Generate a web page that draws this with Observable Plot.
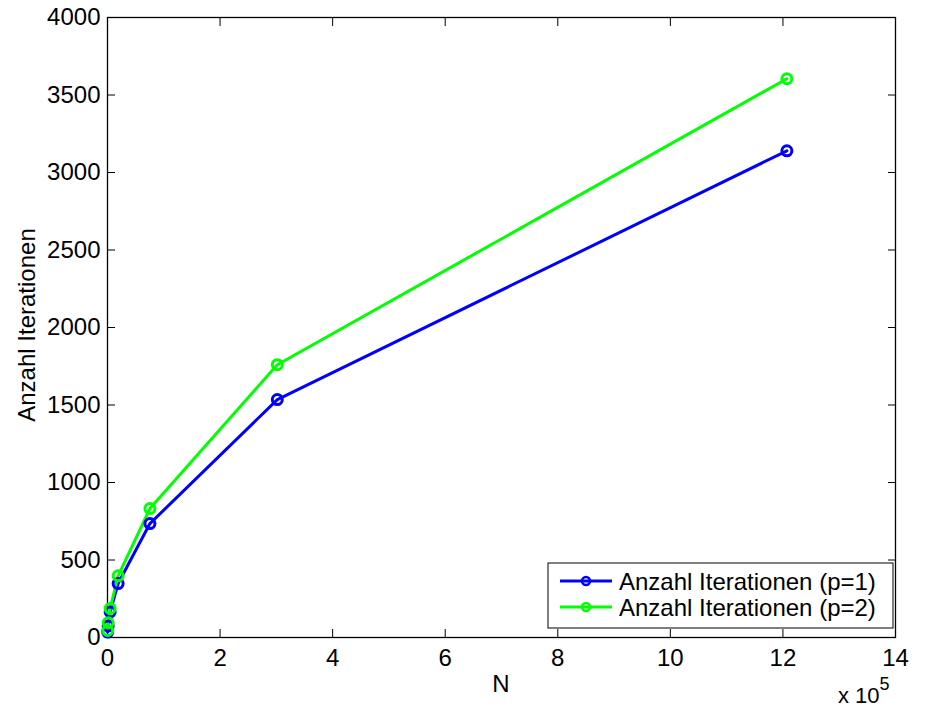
<!DOCTYPE html>
<html><head><meta charset="utf-8">
<script src="https://cdn.jsdelivr.net/npm/d3@7"></script>
<script src="https://cdn.jsdelivr.net/npm/@observablehq/plot@0.6"></script>
<style>body{margin:0;background:#fff}</style>
</head><body><div id="chart"></div>
<script>
const N = [300, 1180, 4700, 18900, 75400, 301700, 1207000];
const iterP1 = [35, 75, 165, 348, 735, 1535, 3140];
const iterP2 = [45, 95, 187, 398, 832, 1760, 3605];
const seriesNames = ["Anzahl Iterationen (p=1)", "Anzahl Iterationen (p=2)"];
const seriesColors = ["#0000ff", "#00ff00"];
const xTicks = [0, 2, 4, 6, 8, 10, 12, 14];
const yTicks = [0, 500, 1000, 1500, 2000, 2500, 3000, 3500, 4000];

const data = [];
N.forEach((n, i) => {
  data.push({x: n / 1e5, y: iterP1[i], s: seriesNames[0]});
});
N.forEach((n, i) => {
  data.push({x: n / 1e5, y: iterP2[i], s: seriesNames[1]});
});

const font = "'Liberation Sans', Arial, Helvetica, sans-serif";
const plot = Plot.plot({
  width: 928, height: 710,
  marginLeft: 107, marginRight: 33, marginTop: 17, marginBottom: 73,
  style: {fontFamily: font, fontSize: "24px", color: "#000", background: "#fff"},
  x: {domain: [0, 14], ticks: xTicks},
  y: {domain: [0, 4000], ticks: yTicks},
  color: {domain: seriesNames, range: seriesColors},
  marks: [
    Plot.axisX({ticks: xTicks, tickSize: 0, tickPadding: 11, label: null, fontSize: 24, tickFormat: d3.format("d")}),
    Plot.axisY({ticks: yTicks, tickSize: 0, tickPadding: 7, label: null, fontSize: 24, tickFormat: d3.format("d")}),
    Plot.axisX({anchor: "bottom", ticks: xTicks, tickSize: -8, text: null, label: null, strokeWidth: 1}),
    Plot.axisX({anchor: "top", ticks: xTicks, tickSize: -8, text: null, label: null, strokeWidth: 1}),
    Plot.axisY({anchor: "left", ticks: yTicks, tickSize: -8, text: null, label: null, strokeWidth: 1}),
    Plot.axisY({anchor: "right", ticks: yTicks, tickSize: -8, text: null, label: null, strokeWidth: 1}),
    Plot.frame({stroke: "#000", strokeWidth: 1.3}),
    Plot.line(data, {x: "x", y: "y", z: "s", stroke: "s", strokeWidth: 3}),
    Plot.dot(data, {x: "x", y: "y", stroke: "s", r: 5, strokeWidth: 3, fill: "none"})
  ]
});
document.getElementById("chart").appendChild(plot);

const svg = d3.select(plot);
// axis labels
svg.append("text").attr("x", 501).attr("y", 692).attr("text-anchor", "middle")
  .attr("font-family", font).attr("font-size", 24).text("N");
svg.append("text").attr("transform", "translate(35,325) rotate(-90)").attr("text-anchor", "middle")
  .attr("font-family", font).attr("font-size", 24).text("Anzahl Iterationen");
const ex = svg.append("text").attr("x", 838).attr("y", 703).attr("text-anchor", "start")
  .attr("font-family", font).attr("font-size", 22);
ex.append("tspan").text("x 10");
ex.append("tspan").attr("dy", -13).attr("font-size", 18).text("5");

// legend
const lg = svg.append("g");
lg.append("rect").attr("x", 548).attr("y", 563).attr("width", 345).attr("height", 65)
  .attr("fill", "#fff").attr("stroke", "#000").attr("stroke-width", 1);
seriesNames.forEach((name, i) => {
  const cy = 581 + i * 26;
  lg.append("line").attr("x1", 560).attr("x2", 612).attr("y1", cy).attr("y2", cy)
    .attr("stroke", seriesColors[i]).attr("stroke-width", 3);
  lg.append("circle").attr("cx", 586).attr("cy", cy).attr("r", 4)
    .attr("fill", "none").attr("stroke", seriesColors[i]).attr("stroke-width", 2.5);
  lg.append("text").attr("x", 619).attr("y", cy).attr("dy", "0.36em").attr("text-anchor", "start")
    .attr("font-family", font).attr("font-size", 24).text(name);
});
</script></body></html>
